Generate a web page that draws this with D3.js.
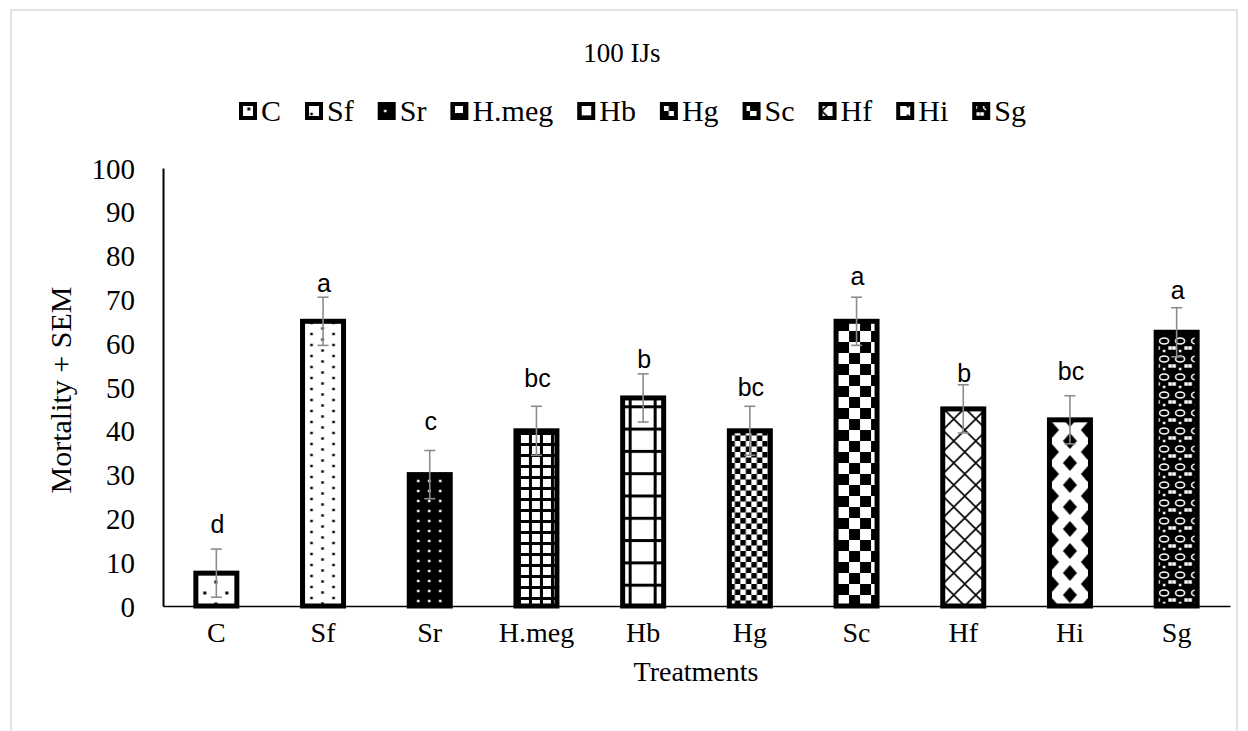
<!DOCTYPE html>
<html>
<head>
<meta charset="utf-8">
<script src="https://cdn.jsdelivr.net/npm/d3@7"></script>
<style>
  body { margin: 0; background: #fff; }
  text { font-family: "Liberation Serif", "Times New Roman", serif; fill: #000; }
  .lett { font-family: "Liberation Sans", Arial, sans-serif; }
</style>
</head>
<body>
<svg id="chart" width="1248" height="731"></svg>
<script>
// values
var categories = ["C", "Sf", "Sr", "H.meg", "Hb", "Hg", "Sc", "Hf", "Hi", "Sg"];
var means = [7.5, 65, 30, 40, 47.5, 40, 65, 45, 42.5, 62.5];
var sem = [5.5, 5.5, 5.5, 5.6, 5.5, 5.6, 5.5, 5.5, 5.5, 5.6];
var letters = ["d", "a", "c", "bc", "b", "bc", "a", "b", "bc", "a"];
var letterAt = [16.7, 71.8, 40.2, 50, 54.4, 47.9, 73.3, 51.2, 51.6, 70];
var yTicks = [0, 10, 20, 30, 40, 50, 60, 70, 80, 90, 100];

var svg = d3.select("#chart");

// outer frame
svg.append("rect")
  .attr("x", 11).attr("y", 10).attr("width", 1226).attr("height", 760)
  .attr("fill", "none").attr("stroke", "#d9d9d9").attr("stroke-width", 1.5);

var x = d3.scaleBand().domain(categories).range([163, 1230]);
var y = d3.scaleLinear().domain([0, 100]).range([606, 168]);
var bw = 41;
var cx = function(i) { return x(categories[i]) + x.bandwidth() / 2; };

/* fill patterns, one per treatment, anchored at the bar's lower left */
var defs = svg.append("defs");
function pat(id, i, w, h, bg) {
  var p = defs.append("pattern").attr("id", id)
    .attr("patternUnits", "userSpaceOnUse").attr("width", w).attr("height", h)
    .attr("x", cx(i) - bw / 2).attr("y", y(0));
  p.append("rect").attr("width", w).attr("height", h).attr("fill", bg);
  return p;
}
function dot(p, px, py, s, c) {
  p.append("rect").attr("x", px - s / 2).attr("y", py - s / 2)
    .attr("width", s).attr("height", s).attr("fill", c);
}
function diamond(p, px, py, rx, ry) {
  p.append("path")
    .attr("d", "M" + px + "," + (py - ry) + "L" + (px + rx) + "," + py +
      "L" + px + "," + (py + ry) + "L" + (px - rx) + "," + py + "Z")
    .attr("fill", "#000");
}

var p = pat("pC", 0, 22, 22, "#fff");
dot(p, 9, 9, 3, "#000"); dot(p, 20, 20, 3, "#000");

p = pat("pSf", 1, 22, 11, "#fff");
dot(p, 9, 3, 2.5, "#000"); dot(p, 20, 8.5, 2.5, "#000");

p = pat("pSr", 2, 11, 10, "#000");
dot(p, 9, 5, 2.5, "#fff");

p = pat("pHmeg", 3, 11, 11, "#fff");
p.append("rect").attr("x", 2).attr("y", 0).attr("width", 3).attr("height", 11).attr("fill", "#000");
p.append("rect").attr("x", 0).attr("y", 2).attr("width", 11).attr("height", 3).attr("fill", "#000");

p = pat("pHb", 4, 25, 22.3, "#fff");
p.append("rect").attr("x", 6).attr("y", 0).attr("width", 3).attr("height", 22.3).attr("fill", "#000");
p.append("rect").attr("x", 0).attr("y", 0).attr("width", 25).attr("height", 3).attr("fill", "#000");

p = pat("pHg", 5, 11, 11, "#fff");
p.append("rect").attr("width", 5.5).attr("height", 5.5).attr("fill", "#000");
p.append("rect").attr("x", 5.5).attr("y", 5.5).attr("width", 5.5).attr("height", 5.5).attr("fill", "#000");

p = pat("pSc", 6, 22, 22, "#fff");
p.append("rect").attr("x", 2).attr("width", 11).attr("height", 11).attr("fill", "#000");
p.append("rect").attr("x", 13).attr("y", 11).attr("width", 11).attr("height", 11).attr("fill", "#000");
p.append("rect").attr("x", -9).attr("y", 11).attr("width", 11).attr("height", 11).attr("fill", "#000");

p = pat("pHf", 7, 22, 22, "#fff");
p.append("path").attr("d", "M0,0L22,22M22,0L0,22M-11,11L11,33M11,-11L33,11M11,-11L-11,11M33,11L11,33")
  .attr("stroke", "#000").attr("stroke-width", 1.6);

p = pat("pHi", 8, 36, 22, "#fff");
diamond(p, 20.5, 11, 7, 8);
diamond(p, 2.5, 0, 7, 8); diamond(p, 2.5, 22, 7, 8);
diamond(p, 38.5, 0, 7, 8); diamond(p, 38.5, 22, 7, 8);

p = pat("pSg", 9, 16, 18, "#000");
p.append("ellipse").attr("cx", 8).attr("cy", 5).attr("rx", 4.5).attr("ry", 3)
  .attr("fill", "none").attr("stroke", "#fff").attr("stroke-width", 1.6);
dot(p, 2, 12, 3.5, "#fff"); dot(p, 14, 12, 3.5, "#fff"); dot(p, 8, 15, 2.5, "#fff");

var fills = ["pC", "pSf", "pSr", "pHmeg", "pHb", "pHg", "pSc", "pHf", "pHi", "pSg"];

/* title */
svg.append("text").attr("x", 622).attr("y", 62).attr("text-anchor", "middle")
  .style("font-size", "27px").text("100 IJs");

/* legend */
var leg = svg.append("g");
var lx = 239;
categories.forEach(function(c, i) {
  leg.append("rect").attr("x", lx + 2).attr("y", 104).attr("width", 14).attr("height", 14)
    .attr("fill", "url(#" + fills[i] + ")").attr("stroke", "#000").attr("stroke-width", 4);
  var t = leg.append("text").attr("x", lx + 22).attr("y", 121)
    .style("font-size", "30px").text(c);
  lx += 22 + t.node().getComputedTextLength() + 24;
});

/* axes */
var yAxis = svg.append("g").attr("transform", "translate(163,0)")
  .call(d3.axisLeft(y).tickValues(yTicks).tickSize(0).tickPadding(28));
yAxis.select(".domain").attr("stroke", "#000").attr("stroke-width", 2);
yAxis.selectAll("text").style("font-size", "29px")
  .style("font-family", "'Liberation Serif', serif").attr("dy", "0.35em");

var xAxis = svg.append("g").attr("transform", "translate(0,606)")
  .call(d3.axisBottom(x).tickSize(0).tickPadding(16).tickSizeOuter(0));
xAxis.select(".domain").attr("stroke", "#000").attr("stroke-width", 1.5);
xAxis.selectAll("text").style("font-size", "28px")
  .style("font-family", "'Liberation Serif', serif");

svg.append("text").attr("x", 696).attr("y", 681).attr("text-anchor", "middle")
  .style("font-size", "28px").text("Treatments");
svg.append("text").attr("transform", "translate(71,390) rotate(-90)")
  .attr("text-anchor", "middle").style("font-size", "30px").text("Mortality + SEM");

/* bars */
svg.append("g").selectAll("rect").data(means).join("rect")
  .attr("x", function(d, i) { return cx(i) - bw / 2; })
  .attr("y", function(d) { return y(d); })
  .attr("width", bw)
  .attr("height", function(d) { return y(0) - y(d); })
  .attr("fill", function(d, i) { return "url(#" + fills[i] + ")"; })
  .attr("stroke", "#000").attr("stroke-width", 5);

/* error bars */
var eb = svg.append("g").attr("stroke", "#8c8c8c").attr("stroke-width", 1.6);
means.forEach(function(m, i) {
  var c = cx(i);
  eb.append("line").attr("x1", c).attr("x2", c).attr("y1", y(m - sem[i])).attr("y2", y(m + sem[i]));
  eb.append("line").attr("x1", c - 5.5).attr("x2", c + 5.5).attr("y1", y(m - sem[i])).attr("y2", y(m - sem[i]));
  eb.append("line").attr("x1", c - 5.5).attr("x2", c + 5.5).attr("y1", y(m + sem[i])).attr("y2", y(m + sem[i]));
});

/* significance letters */
svg.append("g").selectAll("text").data(letters).join("text")
  .attr("class", "lett")
  .attr("x", function(d, i) { return cx(i) + 1; })
  .attr("y", function(d, i) { return y(letterAt[i]); })
  .attr("text-anchor", "middle").style("font-size", "25px")
  .text(function(d) { return d; });
</script>
</body>
</html>
